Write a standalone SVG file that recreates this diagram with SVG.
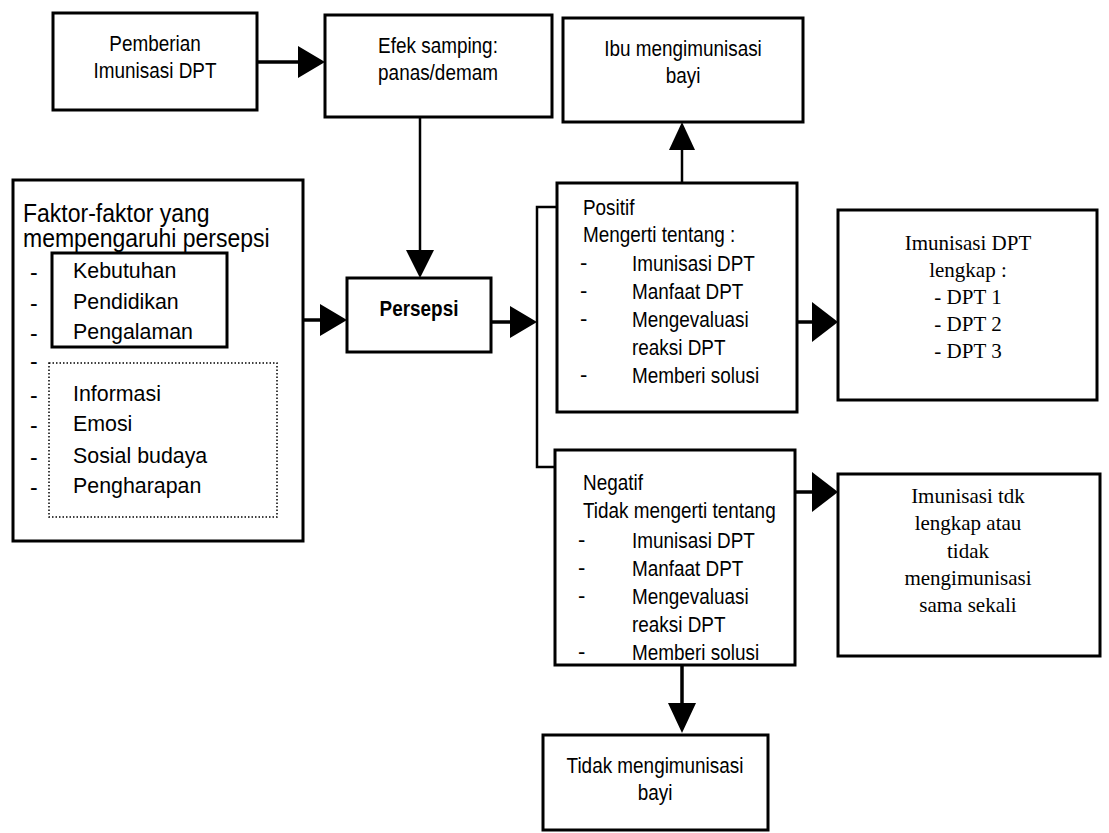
<svg xmlns="http://www.w3.org/2000/svg" width="1109" height="833" viewBox="0 0 1109 833">
<style>
.box{fill:#fff;stroke:#000;stroke-width:3}
.dot{fill:none;stroke:#000;stroke-width:1.5;stroke-dasharray:1.5 2}
.ln{fill:none;stroke:#000;stroke-width:3.5}
.thin{fill:none;stroke:#000;stroke-width:2.5}
.hd{fill:#000}
text{font-family:"Liberation Sans",Arial,sans-serif;font-size:22px;fill:#000}
.c{text-anchor:middle}
.b{font-weight:bold}
.f{font-size:23px}
.h{font-size:25px}
.s{font-family:"Liberation Serif","Times New Roman",serif;font-size:21px}
</style>
<g id="connectors">
<line class="ln" x1="257" y1="62" x2="300" y2="62"/>
<polygon class="hd" points="298,46 325,62 298,78"/>
<line class="thin" x1="420" y1="117" x2="420" y2="252"/>
<polygon class="hd" points="406,250 420,278 434,250"/>
<line class="ln" x1="303" y1="320" x2="322" y2="320"/>
<polygon class="hd" points="320,304 347,320 320,336"/>
<line class="ln" x1="491" y1="322" x2="512" y2="322"/>
<polygon class="hd" points="510,306 537,322 510,338"/>
<polyline class="thin" points="578,207 537,207 537,467 571,467"/>
<line class="thin" x1="682" y1="183" x2="682" y2="148"/>
<polygon class="hd" points="669,150 682,122 695,150"/>
<line class="ln" x1="797" y1="322" x2="815" y2="322"/>
<polygon class="hd" points="812,302 838,322 812,342"/>
<line class="ln" x1="795" y1="492" x2="815" y2="492"/>
<polygon class="hd" points="812,472 838,492 812,512"/>
<line class="ln" x1="682" y1="665" x2="682" y2="705"/>
<polygon class="hd" points="668,703 682,733 696,703"/>
</g>
<g id="pemberian">
<rect class="box" x="53" y="13" width="204" height="97"/>
<text class="c" transform="matrix(0.86 0 0 1 155 51)">Pemberian</text>
<text class="c" transform="matrix(0.86 0 0 1 155 78)">Imunisasi DPT</text>
</g>
<g id="efek">
<rect class="box" x="325" y="15" width="227" height="102"/>
<text class="c" transform="matrix(0.86 0 0 1 438 53)">Efek samping:</text>
<text class="c" transform="matrix(0.86 0 0 1 438 80)">panas/demam</text>
</g>
<g id="ibu">
<rect class="box" x="563" y="18" width="240" height="104"/>
<text class="c" transform="matrix(0.86 0 0 1 683 56)">Ibu mengimunisasi</text>
<text class="c" transform="matrix(0.86 0 0 1 683 83)">bayi</text>
</g>
<g id="faktor">
<rect class="box" x="13" y="180" width="290" height="361"/>
<text class="h" transform="matrix(0.92 0 0 1 23 222)">Faktor-faktor yang</text>
<text class="h" transform="matrix(0.92 0 0 1 23 247)">mempengaruhi persepsi</text>
<rect class="box" x="52" y="253" width="175" height="94"/>
<rect class="dot" x="49" y="363" width="228" height="154"/>
<text class="f" x="30" y="280">-</text>
<text class="f" transform="matrix(0.93 0 0 1 73 278)">Kebutuhan</text>
<text class="f" x="30" y="311">-</text>
<text class="f" transform="matrix(0.93 0 0 1 73 309)">Pendidikan</text>
<text class="f" x="30" y="341">-</text>
<text class="f" transform="matrix(0.93 0 0 1 73 339)">Pengalaman</text>
<text class="f" x="30" y="369">-</text>
<text class="f" x="30" y="403">-</text>
<text class="f" transform="matrix(0.93 0 0 1 73 401)">Informasi</text>
<text class="f" x="30" y="433">-</text>
<text class="f" transform="matrix(0.93 0 0 1 73 431)">Emosi</text>
<text class="f" x="30" y="465">-</text>
<text class="f" transform="matrix(0.93 0 0 1 73 463)">Sosial budaya</text>
<text class="f" x="30" y="495">-</text>
<text class="f" transform="matrix(0.93 0 0 1 73 493)">Pengharapan</text>
</g>
<g id="persepsi">
<rect class="box" x="347" y="278" width="144" height="74"/>
<text class="c b" transform="matrix(0.86 0 0 1 419 316)">Persepsi</text>
</g>
<g id="positif">
<rect class="box" x="557" y="183" width="240" height="229"/>
<text transform="matrix(0.86 0 0 1 583 215)">Positif</text>
<text transform="matrix(0.86 0 0 1 583 242)">Mengerti tentang :</text>
<text x="580" y="270">-</text>
<text transform="matrix(0.86 0 0 1 632 271)">Imunisasi DPT</text>
<text x="580" y="298">-</text>
<text transform="matrix(0.86 0 0 1 632 299)">Manfaat DPT</text>
<text x="580" y="326">-</text>
<text transform="matrix(0.86 0 0 1 632 327)">Mengevaluasi</text>
<text transform="matrix(0.86 0 0 1 632 355)">reaksi DPT</text>
<text x="580" y="382">-</text>
<text transform="matrix(0.86 0 0 1 632 383)">Memberi solusi</text>
</g>
<g id="lengkap">
<rect class="box" x="838" y="210" width="259" height="190"/>
<text class="c s" x="968" y="250">Imunisasi DPT</text>
<text class="c s" x="968" y="277">lengkap :</text>
<text class="c s" x="968" y="304">- DPT 1</text>
<text class="c s" x="968" y="331">- DPT 2</text>
<text class="c s" x="968" y="358">- DPT 3</text>
</g>
<g id="negatif">
<rect class="box" x="555" y="450" width="240" height="215"/>
<text transform="matrix(0.86 0 0 1 583 490)">Negatif</text>
<text transform="matrix(0.86 0 0 1 583 518)">Tidak mengerti tentang</text>
<text x="578" y="547">-</text>
<text transform="matrix(0.86 0 0 1 632 548)">Imunisasi DPT</text>
<text x="578" y="575">-</text>
<text transform="matrix(0.86 0 0 1 632 576)">Manfaat DPT</text>
<text x="578" y="603">-</text>
<text transform="matrix(0.86 0 0 1 632 604)">Mengevaluasi</text>
<text transform="matrix(0.86 0 0 1 632 632)">reaksi DPT</text>
<text x="578" y="659">-</text>
<text transform="matrix(0.86 0 0 1 632 660)">Memberi solusi</text>
</g>
<g id="tidaklengkap">
<rect class="box" x="838" y="474" width="262" height="182"/>
<text class="c s" x="968" y="503">Imunisasi tdk</text>
<text class="c s" x="968" y="530">lengkap atau</text>
<text class="c s" x="968" y="558">tidak</text>
<text class="c s" x="968" y="585">mengimunisasi</text>
<text class="c s" x="968" y="612">sama sekali</text>
</g>
<g id="tidakbayi">
<rect class="box" x="543" y="735" width="225" height="95"/>
<text class="c" transform="matrix(0.86 0 0 1 655 773)">Tidak mengimunisasi</text>
<text class="c" transform="matrix(0.86 0 0 1 655 800)">bayi</text>
</g>
</svg>
